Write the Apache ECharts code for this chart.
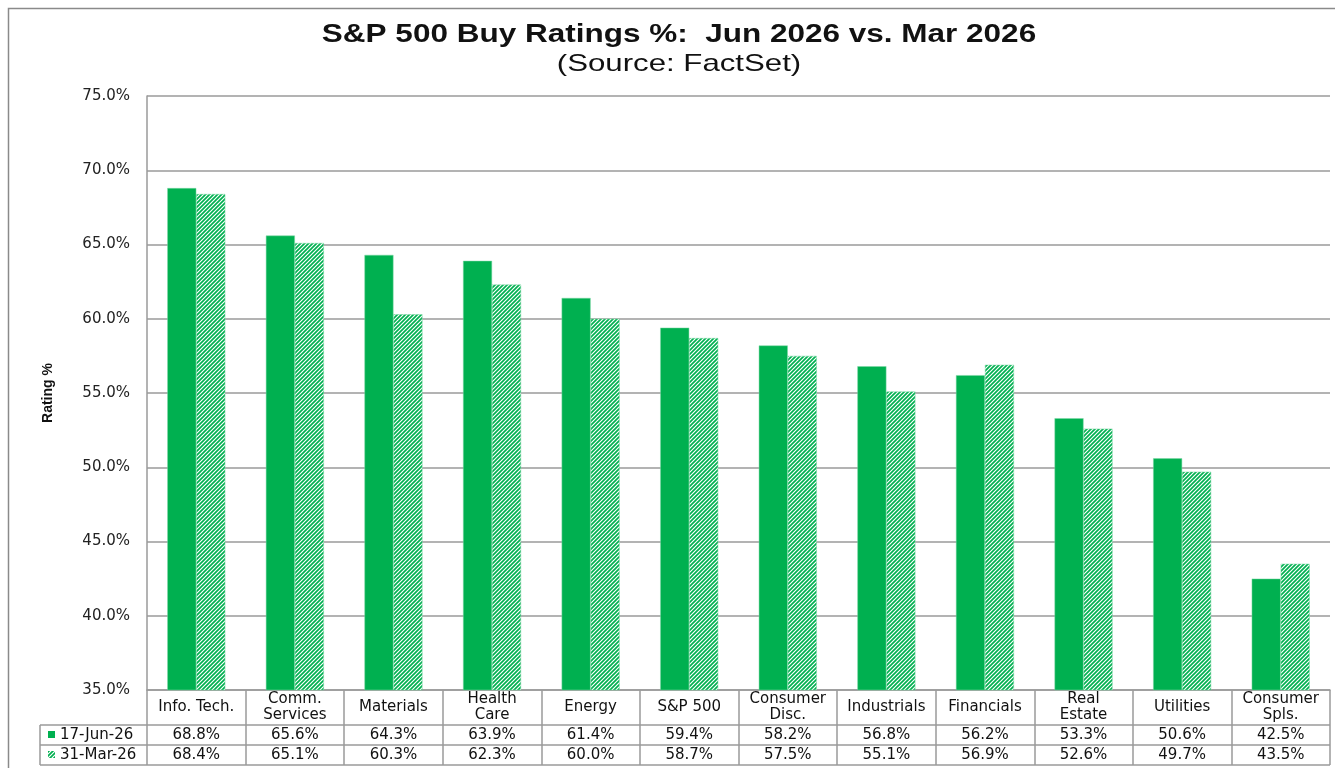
<!DOCTYPE html>
<html><head><meta charset="utf-8">
<script src="https://cdn.jsdelivr.net/npm/echarts@6/dist/echarts.min.js"></script>
<style>html,body{margin:0;padding:0;background:#fff}#c{width:1335px;height:768px}</style>
</head><body><div id="c"></div>
<script>
const categories = ["Info. Tech.", "Comm.\nServices", "Materials", "Health\nCare", "Energy", "S&P 500", "Consumer\nDisc.", "Industrials", "Financials", "Real\nEstate", "Utilities", "Consumer\nSpls."];
const seriesNames = ["17-Jun-26", "31-Mar-26"];
const jun26 = [68.8, 65.6, 64.3, 63.9, 61.4, 59.4, 58.2, 56.8, 56.2, 53.3, 50.6, 42.5];
const mar26 = [68.4, 65.1, 60.3, 62.3, 60.0, 58.7, 57.5, 55.1, 56.9, 52.6, 49.7, 43.5];
const titleText = 'S&P 500 Buy Ratings %:  Jun 2026 vs. Mar 2026';
const subtitleText = '(Source: FactSet)';

const GREEN = '#00B050';
const FONT = '"DejaVu Sans", "Liberation Sans", Arial, sans-serif';
const ARIAL = '"Liberation Sans", Arial, sans-serif';

function hatch() {
  const c = document.createElement('canvas');
  c.width = 4; c.height = 4;
  const g = c.getContext('2d');
  g.fillStyle = '#ffffff'; g.fillRect(0,0,4,4);
  g.strokeStyle = GREEN; g.lineWidth = 1.7;
  g.beginPath();
  g.moveTo(-1,5); g.lineTo(5,-1);
  g.moveTo(-1,1); g.lineTo(1,-1);
  g.moveTo(3,5); g.lineTo(5,3);
  g.stroke();
  return c;
}
const hatchImg = hatch();

const chart = echarts.init(document.getElementById('c'), null, {renderer:'canvas'});
const L = 147, R = 1330, T = 96, B = 690;
const lineStyle = {stroke:'#9a9a9a', lineWidth:1.5};
chart.setOption({
  animation:false,
  backgroundColor:'#fff',
  grid:{left:L, right:1335-R, top:T, bottom:768-B, containLabel:false},
  yAxis:{type:'value', min:35, max:75, interval:5,
    name:'Rating %', nameLocation:'middle', nameGap:92, nameRotate:90,
    nameTextStyle:{fontFamily:'"Liberation Sans Narrow", "Liberation Sans", Arial, sans-serif', fontSize:14, fontWeight:'bold', color:'#111'},
    axisLine:{show:true, lineStyle:{color:'#9a9a9a', width:1.5}},
    axisTick:{show:false},
    splitLine:{lineStyle:{color:'#9a9a9a', width:1.5}},
    axisLabel:{formatter:v=>v.toFixed(1)+'%', fontFamily:FONT, fontSize:15, color:'#222', margin:17}
  },
  xAxis:[
    {type:'category', data:categories, position:'bottom',
     axisLine:{show:true, lineStyle:{color:'#9a9a9a', width:1.5}},
     axisTick:{show:true, length:75, lineStyle:{color:'#9a9a9a', width:1.5}},
     axisLabel:{interval:0, fontFamily:FONT, fontSize:15, color:'#111', lineHeight:16, verticalAlign:'middle', margin:17}
    },
    {type:'category', data:jun26.map(v=>v.toFixed(1)+'%'), position:'bottom', offset:35,
     axisLine:{show:false}, axisTick:{show:false},
     axisLabel:{interval:0, fontFamily:FONT, fontSize:15, color:'#111', verticalAlign:'middle', margin:10}},
    {type:'category', data:mar26.map(v=>v.toFixed(1)+'%'), position:'bottom', offset:55,
     axisLine:{show:false}, axisTick:{show:false},
     axisLabel:{interval:0, fontFamily:FONT, fontSize:15, color:'#111', verticalAlign:'middle', margin:10}}
  ],
  series:[
    {name:seriesNames[0], type:'bar', data:jun26, barWidth:29, barGap:'0%',
     itemStyle:{color:GREEN, borderColor:'#7fd8a7', borderWidth:0.5}},
    {name:seriesNames[1], type:'bar', data:mar26, barWidth:29,
     itemStyle:{color:{image:hatchImg, repeat:'repeat'}, borderColor:'#7fd8a7', borderWidth:0.5}}
  ],
  graphic:[
    {type:'rect', shape:{x:8.5, y:8.5, width:1400, height:800}, style:{fill:null, stroke:'#8a8a8a', lineWidth:1.5}, silent:true},
    {type:'text', x:679, y:35, scaleX:1.26, style:{text:titleText, font:'bold 25px '+ARIAL, fill:'#111', align:'center', verticalAlign:'middle'}, silent:true},
    {type:'text', x:679, y:64, scaleX:1.3, style:{text:subtitleText, font:'24px '+ARIAL, fill:'#111', align:'center', verticalAlign:'middle'}, silent:true},
    {type:'line', shape:{x1:40, y1:725, x2:R, y2:725}, style:lineStyle, silent:true},
    {type:'line', shape:{x1:40, y1:745, x2:R, y2:745}, style:lineStyle, silent:true},
    {type:'line', shape:{x1:40, y1:765, x2:R, y2:765}, style:lineStyle, silent:true},
    {type:'line', shape:{x1:40, y1:725, x2:40, y2:765}, style:lineStyle, silent:true},
    {type:'rect', shape:{x:48, y:731, width:7, height:7}, style:{fill:GREEN}, silent:true},
    {type:'rect', shape:{x:48, y:751, width:7, height:7}, style:{fill:{image:hatchImg, repeat:'repeat'}}, silent:true},
    {type:'text', x:60, y:735, style:{text:seriesNames[0], font:'15px '+FONT, fill:'#111', verticalAlign:'middle'}, silent:true},
    {type:'text', x:60, y:755, style:{text:seriesNames[1], font:'15px '+FONT, fill:'#111', verticalAlign:'middle'}, silent:true}
  ]
});
</script></body></html>
